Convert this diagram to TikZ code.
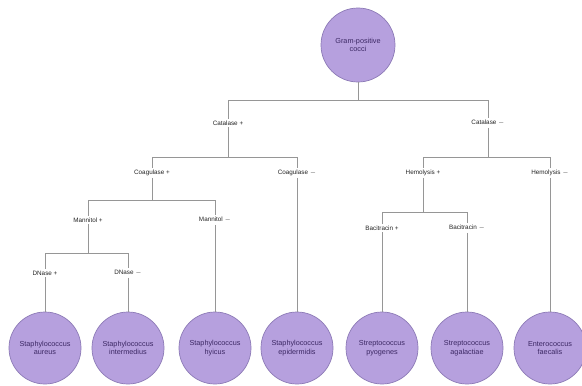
\documentclass[tikz,border=0pt]{standalone}
\usepackage{fontspec}
\setmainfont{Liberation Sans}
\definecolor{roxo}{RGB}{182,160,222}
\definecolor{roxoborda}{RGB}{140,122,182}
\definecolor{textoroxo}{RGB}{60,40,100}
\definecolor{linha}{RGB}{150,150,150}
\begin{document}
\begin{tikzpicture}[x=0.03cm, y=-0.03cm,
    circulo/.style={circle, fill=roxo, draw=roxoborda, line width=0.6pt, minimum size=2.16cm,
        inner sep=0pt, align=center, text=textoroxo, font=\fontsize{6.2}{7.4}\selectfont},
    teste/.style={fill=white, inner sep=1.5pt, text=black!85, font=\fontsize{5.4}{6}\selectfont},
    ligacao/.style={draw=linha, line width=0.6pt}]
    \useasboundingbox (0,0) rectangle (582,385);

    % Raiz
    \node[circulo, minimum size=2.22cm] (raiz) at (358,45) {Gram-positive\\cocci};

    % Testes
    \node[teste] (cat1) at (228,123) {Catalase +};
    \node[teste] (cat2) at (488,123) {Catalase $-$};
    \node[teste] (coa1) at (152,173) {Coagulase +};
    \node[teste] (coa2) at (297,173) {Coagulase $-$};
    \node[teste] (man1) at (88,220) {Mannitol +};
    \node[teste] (man2) at (215,220) {Mannitol $-$};
    \node[teste] (dna1) at (45,273) {DNase +};
    \node[teste] (dna2) at (128,273) {DNase $-$};
    \node[teste] (hem1) at (423,173) {Hemolysis +};
    \node[teste] (hem2) at (550,173) {Hemolysis $-$};
    \node[teste] (bac1) at (382,228) {Bacitracin +};
    \node[teste] (bac2) at (467,228) {Bacitracin $-$};

    % Folhas
    \node[circulo] (f1) at (45,348) {Staphylococcus\\aureus};
    \node[circulo] (f2) at (128,348) {Staphylococcus\\intermedius};
    \node[circulo] (f3) at (215,348) {Staphylococcus\\hyicus};
    \node[circulo] (f4) at (297,348) {Staphylococcus\\epidermidis};
    \node[circulo] (f5) at (382,348) {Streptococcus\\pyogenes};
    \node[circulo] (f6) at (467,348) {Streptococcus\\agalactiae};
    \node[circulo] (f7) at (550,348) {Enterococcus\\faecalis};

    % Barras horizontais
    \coordinate (braiz) at (358,100);
    \coordinate (bcat1) at (228,157);
    \coordinate (bcat2) at (488,157);
    \coordinate (bcoa1) at (152,200);
    \coordinate (bman1) at (88,253);
    \coordinate (bhem1) at (423,212);

    % Ligacoes
    \draw[ligacao] (raiz.south) -- (braiz) -| (cat1.north);
    \draw[ligacao] (braiz) -| (cat2.north);
    \draw[ligacao] (cat1.south) -- (bcat1) -| (coa1.north);
    \draw[ligacao] (bcat1) -| (coa2.north);
    \draw[ligacao] (coa1.south) -- (bcoa1) -| (man1.north);
    \draw[ligacao] (bcoa1) -| (man2.north);
    \draw[ligacao] (man1.south) -- (bman1) -| (dna1.north);
    \draw[ligacao] (bman1) -| (dna2.north);
    \draw[ligacao] (cat2.south) -- (bcat2) -| (hem1.north);
    \draw[ligacao] (bcat2) -| (hem2.north);
    \draw[ligacao] (hem1.south) -- (bhem1) -| (bac1.north);
    \draw[ligacao] (bhem1) -| (bac2.north);
    \draw[ligacao] (dna1.south) -- (f1.north);
    \draw[ligacao] (dna2.south) -- (f2.north);
    \draw[ligacao] (man2.south) -- (f3.north);
    \draw[ligacao] (coa2.south) -- (f4.north);
    \draw[ligacao] (bac1.south) -- (f5.north);
    \draw[ligacao] (bac2.south) -- (f6.north);
    \draw[ligacao] (hem2.south) -- (f7.north);
\end{tikzpicture}
\end{document}
